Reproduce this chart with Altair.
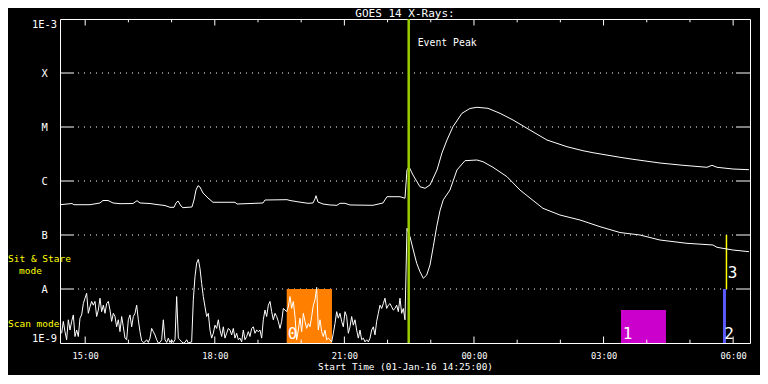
import altair as alt
import pandas as pd

FONT = "DejaVu Sans Mono"

TITLE = "GOES 14 X-Rays:"

# ---- time axis: decimal hours of 01-Jan-16 (values > 24 fall on 02-Jan) ----
T_START = 14 + 25 / 60
T_END = 30.39
HOUR_TICKS = list(range(15, 31))
LABEL_HOURS = [15, 18, 21, 24, 27, 30]

# ---- y axis: flux classes ----
Y_VALUES = [1e-9, 1e-8, 1e-7, 1e-6, 1e-5, 1e-4, 1e-3]
Y_LABELS = ["1E-9", "A", "B", "C", "M", "X", "1E-3"]
GRID_VALUES = [1e-8, 1e-7, 1e-6, 1e-5, 1e-4]

# ---- upper curve (1-8 A channel): hours, log10 flux ----
UPPER_T = [14.417, 14.695, 14.741, 15.111, 15.343, 15.412, 15.528, 15.644, 15.806, 16.106,
           16.199, 16.269, 16.5, 16.616, 16.847, 16.963, 17.056, 17.102, 17.148, 17.218,
           17.264, 17.472, 17.519, 17.565, 17.611, 17.657, 17.727, 17.843, 17.958, 18.236,
           18.468, 18.514, 18.815, 19.116, 19.162, 19.671, 19.741, 19.903, 20.157, 20.273,
           20.319, 20.343, 20.389, 20.505, 20.667, 20.829, 20.898, 21.014, 21.130, 21.662,
           21.894, 21.986, 22.287, 22.403, 22.449, 22.495, 22.588, 22.750, 22.866, 22.982,
           23.144, 23.259, 23.375, 23.514, 23.722, 23.907, 24.069, 24.324, 24.602, 24.903,
           25.227, 25.690, 26.153, 26.523, 26.755, 27.380, 27.681, 28.306, 28.838, 29.394,
           29.509, 29.625, 29.995, 30.366]
UPPER_LOG = [-6.439, -6.417, -6.439, -6.439, -6.407, -6.361, -6.361, -6.407, -6.420, -6.417,
             -6.365, -6.407, -6.417, -6.431, -6.454, -6.487, -6.487, -6.407, -6.370, -6.463,
             -6.494, -6.481, -6.352, -6.167, -6.087, -6.111, -6.222, -6.315, -6.394, -6.394,
             -6.394, -6.426, -6.417, -6.407, -6.352, -6.346, -6.361, -6.383, -6.413, -6.407,
             -6.333, -6.272, -6.389, -6.426, -6.444, -6.450, -6.413, -6.413, -6.444, -6.450,
             -6.407, -6.291, -6.291, -6.320, -5.796, -5.735, -5.889, -6.106, -6.135, -6.074,
             -5.796, -5.481, -5.241, -4.994, -4.746, -4.657, -4.635, -4.654, -4.746, -4.870,
             -5.024, -5.241, -5.365, -5.439, -5.476, -5.561, -5.598, -5.667, -5.709, -5.746,
             -5.709, -5.746, -5.778, -5.791]

# ---- lower curve (0.5-4 A channel), pre-event part at a regular cadence ----
SHORT_PRE_START = 14.455
SHORT_PRE_STEP_MIN = 2.315
SHORT_PRE_LOG = [
    -8.82, -8.60, -8.79, -8.94, -8.57, -8.76, -8.60, -8.48, -8.88, -8.76,
    -8.88, -8.54, -8.48, -8.27, -8.17, -8.08, -8.45, -8.33, -8.23, -8.30,
    -8.23, -8.51, -8.39, -8.17, -8.42, -8.30, -8.45, -8.27, -8.23, -8.39,
    -8.60, -8.45, -8.51, -8.70, -8.57, -8.79, -8.51, -8.70, -8.91, -8.94,
    -8.57, -8.48, -8.70, -8.51, -8.45, -8.30, -8.57, -8.79, -8.96, -8.99,
    -8.98, -8.94, -8.99, -8.91, -8.73, -8.79, -8.85, -8.94, -9.00, -8.99,
    -8.94, -8.57, -8.94, -8.99, -8.91, -8.99, -8.94, -8.99, -8.94, -8.14,
    -8.91, -8.94, -8.98, -9.00, -8.99, -8.94, -9.00, -8.99, -8.98, -8.20,
    -7.77, -7.52, -7.45, -7.62, -7.90, -8.14, -8.33, -8.51, -8.45, -8.76,
    -8.91, -8.82, -8.67, -8.73, -8.57, -8.76, -8.88, -8.70, -8.91, -8.82,
    -8.73,
    -8.76, -8.85, -8.73, -8.91, -8.82, -8.94, -8.91, -8.98, -8.76, -8.94,
    -8.88, -8.79, -8.88, -8.73, -8.70, -8.82, -8.76, -8.79, -8.76, -8.91,
    -8.57, -8.39, -8.51, -8.30, -8.23, -8.42, -8.57, -8.45, -8.51, -8.60,
    -8.73, -8.60, -8.36, -8.39, -8.42, -8.33, -8.14, -8.36, -8.23, -8.51,
    -8.94, -8.76, -8.54, -8.79, -8.45, -8.60, -8.73, -8.64, -8.70, -8.51,
    -8.30, -8.20, -7.97, -8.76, -8.57, -8.79, -8.88, -8.76, -8.94, -8.91,
    -8.94, -8.98, -8.82, -8.64, -8.42, -8.54, -8.45, -8.60, -8.70, -8.42,
    -8.51, -8.82, -8.70, -8.51, -8.67, -8.57, -8.76, -8.91, -8.76, -8.94,
    -8.91, -8.98, -8.94, -8.98, -8.91, -8.76, -8.70, -8.85, -8.60, -8.45,
    -8.30, -8.36, -8.27, -8.17, -8.36, -8.30, -8.27, -8.33, -8.39, -8.36,
    -8.30, -8.42, -8.17, -8.45, -8.36, -8.57]
SHORT_POST_T = [22.449, 22.519, 22.595, 22.674, 22.750, 22.827, 22.906, 22.982, 23.058, 23.137,
                23.213, 23.289, 23.444, 23.606, 23.792, 24.069, 24.208, 24.440, 24.764, 25.065,
                25.297, 25.597, 25.991, 26.454, 26.917, 27.380, 27.843, 28.306, 28.931, 29.532,
                29.625, 29.995, 30.366]
SHORT_POST_LOG = [-6.876, -7.031, -7.278, -7.524, -7.680, -7.802, -7.741, -7.556, -7.217, -6.846,
                  -6.550, -6.350, -6.167, -5.796, -5.624, -5.611, -5.643, -5.746, -5.920, -6.167,
                  -6.315, -6.506, -6.630, -6.722, -6.846, -6.954, -7.000, -7.093, -7.154, -7.185,
                  -7.228, -7.278, -7.309]

# ---- event peak ----
EVENT_T = 22.489
EVENT_TEXT = "Event Peak"

# ---- observation regions ----
REG_START = [19.665, 27.403]
REG_END = [20.713, 28.444]
REG_LO = [1e-9, 1e-9]
REG_HI = [1e-8, 4.07e-9]
REG_COLOR = ["#ff8000", "#cc00cc"]

LINE_T = [29.799, 29.845]
LINE_LO = [1e-9, 1e-8]
LINE_HI = [1e-8, 1e-7]
LINE_COLOR = ["#5a5aff", "#ffff00"]
LINE_WIDTH = [3, 1.5]

NUM_TEXT = ["0", "1", "2", "3"]
NUM_T = [19.687, 27.442, 29.794, 29.873]
NUM_LOG = [-8.92, -8.92, -8.92, -7.80]

MODE_TEXT = ["Sit & Stare", "mode", "Scan mode"]
MODE_LOG = [-7.444, -7.667, -8.648]
MODE_X = [-52, -41, -52]

# ---------------------------------------------------------------------------
upper = pd.DataFrame({"t": UPPER_T, "flux": [10 ** v for v in UPPER_LOG]})
pre_t = [SHORT_PRE_START + i * SHORT_PRE_STEP_MIN / 60 for i in range(len(SHORT_PRE_LOG))]
lower = pd.DataFrame({"t": pre_t + SHORT_POST_T,
                      "flux": [10 ** v for v in SHORT_PRE_LOG + SHORT_POST_LOG]})

x_scale = alt.Scale(domain=[T_START, T_END], nice=False, zero=False)
y_scale = alt.Scale(type="log", domain=[1e-9, 1e-3], nice=False)

label_expr = " : ".join(
    f"datum.value < {v * 3:.0e} ? '{l}'" for v, l in zip(Y_VALUES[:-1], Y_LABELS[:-1])
) + f" : '{Y_LABELS[-1]}'"

x_axis = alt.Axis(values=LABEL_HOURS, labelExpr="format(datum.value % 24, '02d') + ':00'",
                  ticks=False, tickSize=0, domain=False, grid=False, labelFlush=False,
                  labelColor="white", labelFont=FONT, labelFontSize=8.7, labelPadding=8,
                  title="Start Time (01-Jan-16 14:25:00)", titleColor="white", titleFont=FONT,
                  titleFontSize=9.4, titleFontWeight="normal", titlePadding=3)
y_axis = alt.Axis(values=Y_VALUES, labelExpr=label_expr, ticks=False, tickSize=0, domain=False,
                  grid=False, labelFlush=True, labelAlign="center", labelPadding=16,
                  labelColor="white", labelFont=FONT, labelFontSize=10.4, title=None)


def X(field="t"):
    return alt.X(f"{field}:Q", scale=x_scale, axis=x_axis)


def Y(field="flux"):
    return alt.Y(f"{field}:Q", scale=y_scale, axis=y_axis)


grid_df = pd.DataFrame({"flux": GRID_VALUES})
grid = alt.Chart(grid_df).mark_rule(color="white", strokeDash=[1, 5], strokeWidth=1).encode(
    y=Y(), x=alt.value(18), x2=alt.value(676))
ytick_l = alt.Chart(grid_df).mark_rule(color="white").encode(y=Y(), x=alt.value(0), x2=alt.value(14))
ytick_r = alt.Chart(grid_df).mark_rule(color="white").encode(y=Y(), x=alt.value(676), x2=alt.value(690))

ticks_df = pd.DataFrame({"t": HOUR_TICKS, "major": [h % 3 == 0 for h in HOUR_TICKS]})
major = alt.Chart(ticks_df).transform_filter("datum.major")
minor = alt.Chart(ticks_df).transform_filter("!datum.major")
xt1 = major.mark_rule(color="white").encode(x=X(), y=alt.value(0), y2=alt.value(6.5))
xt2 = minor.mark_rule(color="white").encode(x=X(), y=alt.value(0), y2=alt.value(3.3))
xt3 = major.mark_rule(color="white").encode(x=X(), y=alt.value(324), y2=alt.value(317.5))
xt4 = minor.mark_rule(color="white").encode(x=X(), y=alt.value(324), y2=alt.value(320.7))

reg_df = pd.DataFrame({"t": REG_START, "t2": REG_END, "lo": REG_LO, "hi": REG_HI,
                       "c": REG_COLOR})
regions = alt.Chart(reg_df).mark_rect().encode(
    x=X(), x2=alt.X2("t2"), y=Y("lo"), y2=alt.Y2("hi"),
    color=alt.Color("c:N", scale=None))

line_df = pd.DataFrame({"t": LINE_T, "lo": LINE_LO, "hi": LINE_HI, "c": LINE_COLOR,
                        "w": LINE_WIDTH})
vlines = alt.Chart(line_df).mark_rule().encode(
    x=X(), y=Y("lo"), y2=alt.Y2("hi"), color=alt.Color("c:N", scale=None),
    strokeWidth=alt.StrokeWidth("w:Q", scale=None))

up_line = alt.Chart(upper).mark_line(color="white", strokeWidth=1).encode(x=X(), y=Y())
low_line = alt.Chart(lower).mark_line(color="white", strokeWidth=1).encode(x=X(), y=Y())

ev_df = pd.DataFrame({"t": [EVENT_T], "text": [EVENT_TEXT]})
event = alt.Chart(ev_df).mark_rule(color="#9acd00", strokeWidth=2.5).encode(x=X())
event_txt = alt.Chart(ev_df).mark_text(align="left", baseline="middle", dx=9, color="white",
                                       font=FONT, fontSize=9.8).encode(
    x=X(), y=alt.value(24), text="text:N")

num_df = pd.DataFrame({"t": NUM_T, "flux": [10 ** v for v in NUM_LOG], "text": NUM_TEXT})
nums = alt.Chart(num_df).mark_text(align="left", baseline="alphabetic", color="white",
                                   font=FONT, fontSize=16).encode(x=X(), y=Y(), text="text:N")

mode_df = pd.DataFrame({"flux": [10 ** v for v in MODE_LOG], "text": MODE_TEXT, "px": MODE_X})
modes = alt.Chart(mode_df).mark_text(align="left", baseline="middle", color="#ffff00",
                                     font=FONT, fontSize=9.5).encode(
    x=alt.X("px:Q", scale=None), y=Y(), text="text:N")

title_df = pd.DataFrame({"text": [TITLE]})
title = alt.Chart(title_df).mark_text(align="center", baseline="alphabetic", color="white",
                                      font=FONT, fontSize=11).encode(
    x=alt.value(345), y=alt.value(-2.5), text="text:N")

chart = alt.layer(
    grid, ytick_l, ytick_r, regions, vlines, up_line, low_line, event, event_txt, nums, modes,
    xt1, xt2, xt3, xt4, title,
).properties(
    width=690, height=324,
    autosize=alt.AutoSizeParams(type="none"),
    padding={"left": 52, "top": 11, "right": 10, "bottom": 32},
    background="black",
).configure_view(stroke="white", strokeWidth=1)

chart.save("out.html", embed_options={"renderer": "svg", "actions": False})
